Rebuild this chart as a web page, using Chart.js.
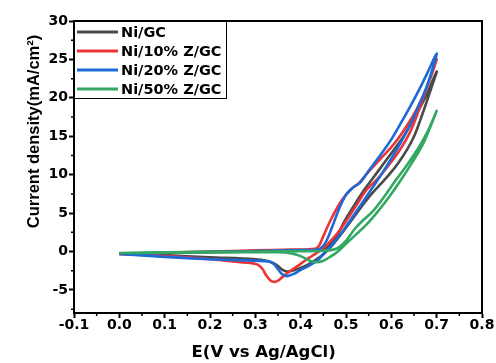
<!DOCTYPE html>
<html>
<head>
<meta charset="utf-8">
<script src="https://cdn.jsdelivr.net/npm/chart.js@4/dist/chart.umd.min.js"></script>
<style>
body { margin: 0; background: #fff; }
#wrap { width: 496px; height: 363px; }
</style>
</head>
<body>
<div id="wrap"><canvas id="cv"></canvas></div>
<script>
// series names + colours
const seriesNames = ['Ni/GC', 'Ni/10% Z/GC', 'Ni/20% Z/GC', 'Ni/50% Z/GC'];
const seriesColors = ['#4a4a4a', '#ec3338', '#1c6ad8', '#33a862'];

// Ni/GC  (forward scan 0 -> 0.7 V, then reverse scan back to 0)
const niGcE = [0.00,0.10,0.20,0.30,0.40,0.44,0.46,0.475,0.485,0.497,0.52,0.541,0.56,0.58,0.60,0.625,0.65,0.675,0.70,
    0.69,0.678,0.665,0.651,0.635,0.615,0.595,0.575,0.555,0.535,0.515,0.495,0.475,0.46,0.445,0.425,0.405,0.385,0.37,0.36,0.35,0.34,0.325,0.30,0.20,0.10,0.00];
const niGcJ = [-0.3,-0.2,-0.1,0.0,0.1,0.2,0.6,1.6,2.6,4.0,6.2,8.1,9.6,11.2,12.8,14.8,17.3,20.1,23.4,
    21.6,19.5,17.3,15.1,13.3,11.5,10.0,8.7,7.4,5.9,4.3,2.7,1.2,0.2,-0.6,-1.4,-2.0,-2.45,-2.6,-2.4,-1.9,-1.5,-1.2,-1.0,-0.75,-0.5,-0.3];

// Ni/10% Z/GC
const ni10E = [0.00,0.10,0.20,0.30,0.38,0.42,0.437,0.45,0.467,0.49,0.511,0.53,0.55,0.575,0.60,0.614,0.64,0.66,0.68,0.70,
    0.69,0.675,0.66,0.645,0.633,0.615,0.595,0.57,0.545,0.525,0.503,0.48,0.46,0.445,0.43,0.419,0.40,0.38,0.362,0.35,0.342,0.334,0.325,0.315,0.305,0.29,0.25,0.20,0.10,0.00];
const ni10J = [-0.3,-0.15,0.0,0.15,0.25,0.3,0.5,2.0,4.2,6.6,8.1,9.0,10.4,12.0,13.6,14.6,16.9,19.0,21.6,25.0,
    23.2,20.8,18.3,16.0,14.6,12.9,11.3,9.5,8.0,6.2,4.2,2.3,1.0,0.2,-0.4,-0.8,-1.6,-2.4,-3.2,-3.8,-3.95,-3.8,-3.2,-2.2,-1.7,-1.5,-1.3,-1.0,-0.6,-0.3];

// Ni/20% Z/GC
const ni20E = [0.00,0.10,0.20,0.30,0.40,0.44,0.455,0.47,0.485,0.50,0.515,0.53,0.545,0.56,0.58,0.60,0.62,0.64,0.66,0.68,0.70,
    0.688,0.675,0.66,0.64,0.62,0.60,0.58,0.556,0.533,0.511,0.49,0.47,0.455,0.44,0.42,0.40,0.385,0.37,0.36,0.35,0.34,0.33,0.30,0.25,0.20,0.10,0.00];
const ni20J = [-0.3,-0.15,-0.05,0.05,0.2,0.3,1.2,3.3,5.6,7.4,8.3,8.9,10.1,11.3,12.9,14.6,16.6,18.7,20.9,23.3,25.8,
    23.2,21.0,18.9,16.3,14.1,12.1,10.2,8.1,6.1,4.2,2.4,0.9,0.0,-1.0,-1.8,-2.4,-2.9,-3.2,-3.0,-2.3,-1.6,-1.3,-1.2,-1.1,-1.0,-0.7,-0.3];

// Ni/50% Z/GC
const ni50E = [0.00,0.10,0.20,0.30,0.40,0.45,0.48,0.50,0.52,0.54,0.56,0.585,0.61,0.635,0.66,0.68,0.70,
    0.69,0.67,0.645,0.62,0.595,0.57,0.545,0.52,0.50,0.48,0.465,0.45,0.435,0.42,0.40,0.38,0.35,0.25,0.10,0.00];
const ni50J = [-0.2,-0.1,-0.05,0.0,0.05,0.1,0.4,1.4,3.0,4.2,5.3,7.2,9.3,11.3,13.5,15.6,18.3,
    16.8,14.0,11.5,9.2,7.1,5.2,3.5,2.1,1.0,-0.1,-0.7,-1.2,-1.4,-1.2,-0.6,-0.25,-0.1,-0.1,-0.15,-0.2];

// ticks
const xTickValues = [-0.1,0.0,0.1,0.2,0.3,0.4,0.5,0.6,0.7,0.8];
const xMinorValues = [-0.05,0.05,0.15,0.25,0.35,0.45,0.55,0.65,0.75];
const yTickValues = [-5,0,5,10,15,20,25,30];
const yMinorValues = [-7.5,-2.5,2.5,7.5,12.5,17.5,22.5,27.5];

function pts(xs, ys) {
    return xs.map((x, i) => ({x: x, y: ys[i]}));
}

const allE = [niGcE, ni10E, ni20E, ni50E];
const allJ = [niGcJ, ni10J, ni20J, ni50J];

Chart.defaults.font.family = "'DejaVu Sans', sans-serif";
Chart.defaults.font.weight = 'bold';
Chart.defaults.color = '#000';

const datasets = seriesNames.map((name, i) => ({
    label: name,
    data: pts(allE[i], allJ[i]),
    borderColor: seriesColors[i],
    backgroundColor: seriesColors[i],
    borderWidth: 2.6,
    pointRadius: 0,
    fill: false,
    tension: 0.35,
    order: 4 - i
}));

// frame, minor ticks and the boxed legend inside the plot
const extras = {
    id: 'extras',
    afterDraw(chart) {
        const ctx = chart.ctx;
        const a = chart.chartArea;
        const xs = chart.scales.x, ys = chart.scales.y;
        ctx.save();
        ctx.strokeStyle = '#000';
        ctx.lineWidth = 2;
        ctx.strokeRect(a.left, a.top, a.right - a.left, a.bottom - a.top);

        ctx.lineWidth = 1.5;
        ctx.beginPath();
        xMinorValues.forEach(v => {
            let px = xs.getPixelForValue(v);
            ctx.moveTo(px, a.bottom);
            ctx.lineTo(px, a.bottom + 3);
        });
        yMinorValues.forEach(v => {
            if (v < ys.min) return;
            let py = ys.getPixelForValue(v);
            ctx.moveTo(a.left, py);
            ctx.lineTo(a.left - 3, py);
        });
        ctx.stroke();

        // legend
        let bx = a.left, by = a.top, bw = 152, bh = 77;
        ctx.lineWidth = 1;
        ctx.strokeRect(bx + 0.5, by + 0.5, bw, bh);
        ctx.font = "bold 14.5px 'DejaVu Sans'";
        ctx.textBaseline = 'middle';
        ctx.textAlign = 'left';
        chart.data.datasets.forEach((ds, i) => {
            let ry = by + 11 + i * 19;
            ctx.strokeStyle = ds.borderColor;
            ctx.lineWidth = 3;
            ctx.beginPath();
            ctx.moveTo(bx + 3, ry);
            ctx.lineTo(bx + 44, ry);
            ctx.stroke();
            ctx.fillStyle = '#000';
            ctx.fillText(ds.label, bx + 47, ry + 1);
        });
        ctx.restore();
    }
};

new Chart(document.getElementById('cv'), {
    type: 'line',
    data: { datasets: datasets },
    options: {
        responsive: true,
        maintainAspectRatio: false,
        animation: false,
        layout: { padding: { top: 21, right: 14, left: 0, bottom: 0 } },
        plugins: { legend: { display: false }, tooltip: { enabled: false } },
        scales: {
            x: {
                type: 'linear',
                min: -0.1,
                max: 0.8,
                afterBuildTicks: s => { s.ticks = xTickValues.map(v => ({value: v})); },
                afterFit: s => { s.height = 50; },
                grid: { drawOnChartArea: false, tickLength: 5, tickWidth: 2, tickColor: '#000' },
                border: { display: true, color: '#000', width: 2 },
                ticks: {
                    font: { size: 14, weight: 'bold' },
                    padding: -1,
                    maxRotation: 0,
                    callback: v => v.toFixed(1)
                },
                title: {
                    display: true,
                    text: 'E(V vs Ag/AgCl)     ',
                    font: { size: 16.5, weight: 'bold' },
                    padding: { top: 0, bottom: 0 }
                }
            },
            y: {
                type: 'linear',
                min: -8,
                max: 30,
                afterBuildTicks: s => { s.ticks = yTickValues.map(v => ({value: v})); },
                afterFit: s => { s.width = 74; },
                grid: { drawOnChartArea: false, tickLength: 5, tickWidth: 2, tickColor: '#000' },
                border: { display: true, color: '#000', width: 2 },
                ticks: {
                    font: { size: 14, weight: 'bold' },
                    padding: 1
                },
                title: {
                    display: true,
                    text: 'Current density(mA/cm\u00b2)   ',
                    align: 'end',
                    font: { family: "'Liberation Sans', Arial, sans-serif", size: 16.5, weight: 'bold' },
                    padding: { top: 25, bottom: 0 }
                }
            }
        }
    },
    plugins: [extras]
});
</script>
</body>
</html>
